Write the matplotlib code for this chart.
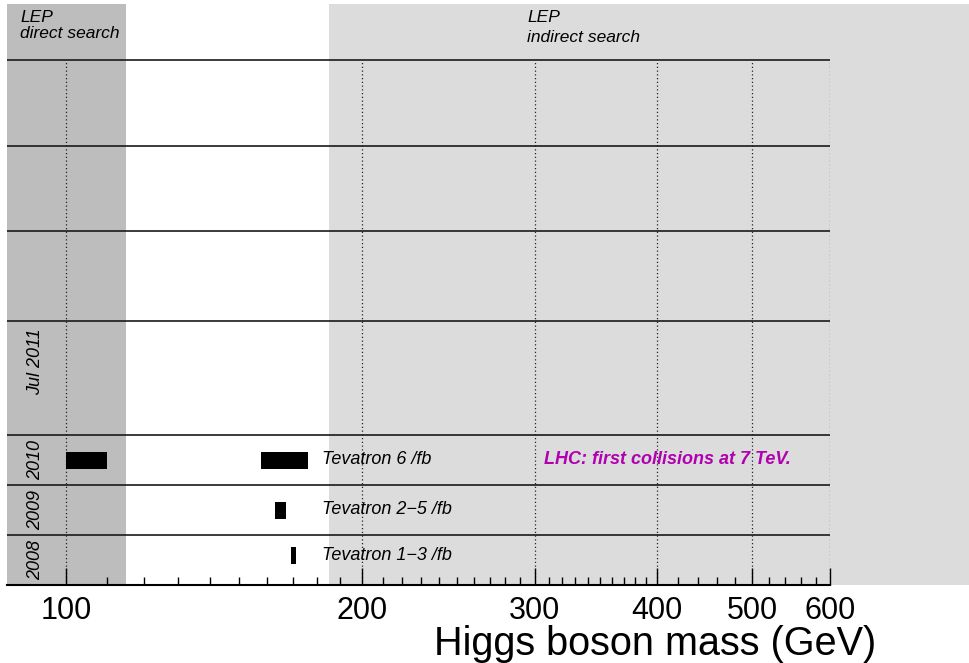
import matplotlib.pyplot as plt
from matplotlib.ticker import FixedLocator, NullFormatter, FixedFormatter
from matplotlib.transforms import blended_transform_factory

plt.rcParams['font.family'] = ['Liberation Sans', 'DejaVu Sans']

# exclusion ranges per year (GeV)
years = ['2008', '2009', '2010', 'Jul 2011']
excluded = {
    '2008': [(169.5, 171.5)],
    '2009': [(163.0, 167.5)],
    '2010': [(100.0, 110.0), (158.0, 176.5)],
}
tev_labels = {'2008': 'Tevatron 1\u22123 /fb', '2009': 'Tevatron 2\u22125 /fb', '2010': 'Tevatron 6 /fb'}

lep_direct = (87.0, 115.0)
lep_indirect = (185.0, 840.0)
xmin, xmax = 87.0, 600.0
major_ticks = [100, 200, 300, 400, 500, 600]
minor_ticks = ([m for m in range(110, 200, 10)] + [m for m in range(210, 300, 10)] +
               [m for m in range(310, 400, 10)] + [420, 440, 460, 480, 520, 540, 560, 580])

# row layout (vertical units), bottom row first
row_edges = [0, 50, 100, 150, 264, 354, 439, 525]
ytop = 581

fig = plt.figure(figsize=(9.69, 6.63), dpi=100)
ax = fig.add_axes([7 / 969, 78 / 663, 823 / 969, 581 / 663])
ax.set_xscale('log')
ax.set_xlim(xmin, xmax)
ax.set_ylim(0, ytop)

ax.axvspan(*lep_direct, color='#bdbdbd', lw=0, zorder=0)
ax.axvspan(*lep_indirect, color='#dcdcdc', lw=0, zorder=0, clip_on=False)

for t in major_ticks:
    ax.plot([t, t], [0, row_edges[-1]], ls=(0, (1, 2)), color='#222222', lw=0.9, zorder=1)

for y in row_edges[1:]:
    ax.axhline(y, color='#1a1a1a', lw=1.2, zorder=2)

tr = blended_transform_factory(ax.transAxes, ax.transData)
for i, yr in enumerate(years):
    yc = (row_edges[i] + row_edges[i + 1]) / 2
    ly = yc + 16 if yr == 'Jul 2011' else yc
    ax.text(0.035, ly, yr, transform=tr, rotation=90, ha='center', va='center',
            fontsize=13, style='italic')
    for lo, hi in excluded.get(yr, []):
        ax.barh(yc + (5 if i == 0 else 0), hi - lo, left=lo, height=17, color='black', zorder=3)
    if yr in tev_labels:
        ax.text(182, yc + (5 if i == 0 else 0), tev_labels[yr], ha='left', va='center',
                fontsize=13, style='italic', zorder=4)

yc_2010 = (row_edges[2] + row_edges[3]) / 2
ax.text(307, yc_2010, 'LHC: first collisions at 7 TeV.', ha='left', va='center',
        fontsize=13, style='italic', weight='bold', color='#b000b0', zorder=4)

ax.text(0.016, 567, 'LEP', transform=tr, ha='left', va='center', fontsize=12.5, style='italic')
ax.text(0.016, 551, 'direct search', transform=tr, ha='left', va='center', fontsize=12.5, style='italic')
ax.text(295, 567, 'LEP', ha='left', va='center', fontsize=12.5, style='italic')
ax.text(295, 548, 'indirect search', ha='left', va='center', fontsize=12.5, style='italic')

for s in ['top', 'left', 'right']:
    ax.spines[s].set_visible(False)
ax.spines['bottom'].set_linewidth(1.5)

ax.xaxis.set_major_locator(FixedLocator(major_ticks))
ax.xaxis.set_major_formatter(FixedFormatter([str(t) for t in major_ticks]))
ax.xaxis.set_minor_locator(FixedLocator(minor_ticks))
ax.xaxis.set_minor_formatter(NullFormatter())
ax.tick_params(axis='x', which='major', direction='in', length=12, width=1, labelsize=22, pad=8)
ax.tick_params(axis='x', which='minor', direction='in', length=6, width=1)
ax.set_yticks([])

fig.text(876 / 969, 8 / 663, 'Higgs boson mass (GeV)', ha='right', va='baseline', fontsize=28.5)

fig.savefig('out.png', dpi=100)
